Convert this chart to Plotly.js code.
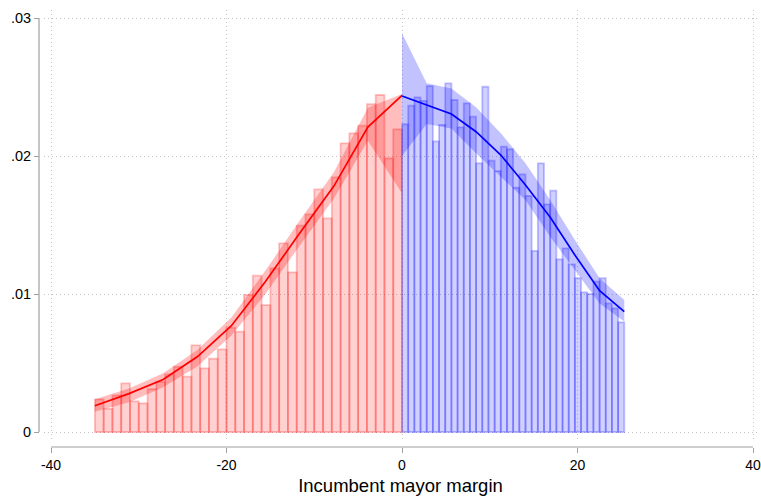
<!DOCTYPE html>
<html>
<head>
<meta charset="utf-8">
<script src="https://cdn.plot.ly/plotly-3.0.1.min.js"></script>
<style>html,body{margin:0;padding:0;background:#fff;}#chart{width:761px;height:498px;}</style>
</head>
<body>
<div id="chart"></div>
<script>
// ---- data ----
var leftBinCenters = [-34.5,-33.5,-32.5,-31.5,-30.5,-29.5,-28.5,-27.5,-26.5,-25.5,-24.5,-23.5,-22.5,-21.5,-20.5,-19.5,-18.5,-17.5,-16.5,-15.5,-14.5,-13.5,-12.5,-11.5,-10.5,-9.5,-8.5,-7.5,-6.5,-5.5,-4.5,-3.5,-2.5,-1.5,-0.5];
var leftBinWidth = 1.0;
var leftDensity = [0.00237,0.00168,0.00266,0.00352,0.00222,0.00208,0.00311,0.00364,0.00418,0.00473,0.00401,0.00628,0.00461,0.00531,0.00599,0.00756,0.00727,0.00993,0.01133,0.00920,0.01186,0.01367,0.01157,0.01495,0.01577,0.01758,0.01548,0.01845,0.02092,0.02164,0.02220,0.02375,0.02442,0.01983,0.02193];

var rightBinCenters = [0.352,1.055,1.759,2.463,3.166,3.870,4.573,5.277,5.981,6.684,7.388,8.091,8.795,9.499,10.202,10.906,11.609,12.313,13.017,13.720,14.424,15.127,15.831,16.535,17.238,17.942,18.645,19.349,20.053,20.756,21.460,22.163,22.867,23.571,24.274,24.978];
var rightBinWidth = 0.7036;
var rightDensity = [0.02230,0.02365,0.02425,0.02400,0.02507,0.02106,0.02225,0.02527,0.02406,0.02208,0.02382,0.02285,0.01947,0.02502,0.01966,0.01891,0.02068,0.02049,0.01770,0.01867,0.01710,0.01312,0.01947,0.01650,0.01749,0.01251,0.01331,0.01215,0.01114,0.01012,0.01000,0.01089,0.01114,0.00932,0.00896,0.00795];

var leftEval = [-35,-31.11,-27.22,-23.33,-19.44,-15.56,-11.67,-7.78,-3.89,0];
var leftFit  = [0.0019,0.00278,0.0038,0.00545,0.0077,0.0109,0.0144,0.0178,0.0221,0.0244];
var leftLo   = [0.00147,0.00215,0.00325,0.00475,0.0070,0.0100,0.0135,0.0169,0.0211,0.0173];
var leftHi   = [0.00237,0.00315,0.00425,0.00595,0.0083,0.0117,0.0153,0.0188,0.0235,0.0245];

var rightEval = [0,2.81,5.63,8.44,11.26,14.07,16.89,19.70,22.52,25.33];
var rightFit  = [0.02435,0.0237,0.02304,0.02176,0.02007,0.0179,0.01556,0.01283,0.01024,0.00872];
var rightLo   = [0.0200,0.02232,0.0220,0.0202,0.0185,0.01681,0.01415,0.01174,0.00932,0.0080];
var rightHi   = [0.02889,0.02527,0.0249,0.02353,0.02164,0.01947,0.01681,0.01391,0.01114,0.00957];

var xTickVals = [-40,-20,0,20,40];
var xTickText = ['-40','-20','0','20','40'];
var yTickVals = [0,0.01,0.02,0.03];
var yTickText = ['0','.01','.02','.03'];
var xTitle = 'Incumbent mayor margin';

// ---- helpers ----
function rep(v,n){var a=[];for(var i=0;i<n;i++)a.push(v);return a;}
function band(xs,lo,hi){
  return {x: xs.concat(xs.slice().reverse()), y: hi.concat(lo.slice().reverse())};
}
var lb = band(leftEval,leftLo,leftHi);
var rb = band(rightEval,rightLo,rightHi);

var traces = [
  {type:'bar', x:leftBinCenters, y:leftDensity, width:rep(leftBinWidth,leftBinCenters.length),
   marker:{color:'rgba(255,0,0,0.18)', line:{color:'rgba(255,0,0,0.24)', width:1.8}}, hoverinfo:'skip'},
  {type:'bar', x:rightBinCenters, y:rightDensity, width:rep(rightBinWidth,rightBinCenters.length),
   marker:{color:'rgba(0,0,255,0.18)', line:{color:'rgba(0,0,255,0.24)', width:1.8}}, hoverinfo:'skip'},
  {type:'scatter', mode:'lines', x:lb.x, y:lb.y, fill:'toself', fillcolor:'rgba(255,0,0,0.26)',
   line:{width:0}, hoverinfo:'skip'},
  {type:'scatter', mode:'lines', x:rb.x, y:rb.y, fill:'toself', fillcolor:'rgba(0,0,255,0.24)',
   line:{width:0}, hoverinfo:'skip'},
  {type:'scatter', mode:'lines', x:leftEval, y:leftFit, line:{color:'#ff0000', width:1.7}, hoverinfo:'skip'},
  {type:'scatter', mode:'lines', x:rightEval, y:rightFit, line:{color:'#0000ff', width:1.7}, hoverinfo:'skip'}
];

var axisGray = '#a0a0a0';
var layout = {
  width:761, height:498,
  margin:{l:39, r:4, t:10, b:51, pad:0},
  paper_bgcolor:'#ffffff', plot_bgcolor:'#ffffff',
  showlegend:false,
  barmode:'overlay', bargap:0,
  font:{family:'Liberation Sans, Arial, Helvetica, sans-serif', size:14, color:'#000'},
  xaxis:{
    domain:[5/718,1], range:[-40.798,40.455], anchor:'free', position:0,
    tickmode:'array', tickvals:xTickVals, ticktext:xTickText,
    ticks:'outside', ticklen:5, tickwidth:1, tickcolor:axisGray,
    ticklabeloverflow:'allow',
    showline:false, zeroline:false,
    showgrid:true, gridcolor:'#c4c4c4', griddash:'1px,3px', gridwidth:1,
    tickfont:{size:14, color:'#000'},
    title:{text:xTitle, font:{size:18.5, color:'#000'}, standoff:7}
  },
  yaxis:{
    domain:[8/437,1], range:[-0.000507,0.03058], anchor:'free', position:0,
    tickmode:'array', tickvals:yTickVals, ticktext:yTickText,
    ticks:'outside', ticklen:5, tickwidth:1, tickcolor:axisGray,
    ticklabeloverflow:'allow',
    showline:false, zeroline:false,
    showgrid:true, gridcolor:'#c4c4c4', griddash:'1px,3px', gridwidth:1,
    tickfont:{size:14.5, color:'#000'}
  },
  shapes:[
    {type:'line', xref:'x', yref:'paper', x0:xTickVals[0], x1:xTickVals[xTickVals.length-1], y0:0, y1:0,
     line:{color:axisGray, width:1.2}},
    {type:'line', xref:'paper', yref:'y', x0:0, x1:0, y0:yTickVals[0], y1:yTickVals[yTickVals.length-1],
     line:{color:axisGray, width:1.2}}
  ]
};

Plotly.newPlot('chart', traces, layout, {displayModeBar:false, staticPlot:true});
</script>
</body>
</html>
